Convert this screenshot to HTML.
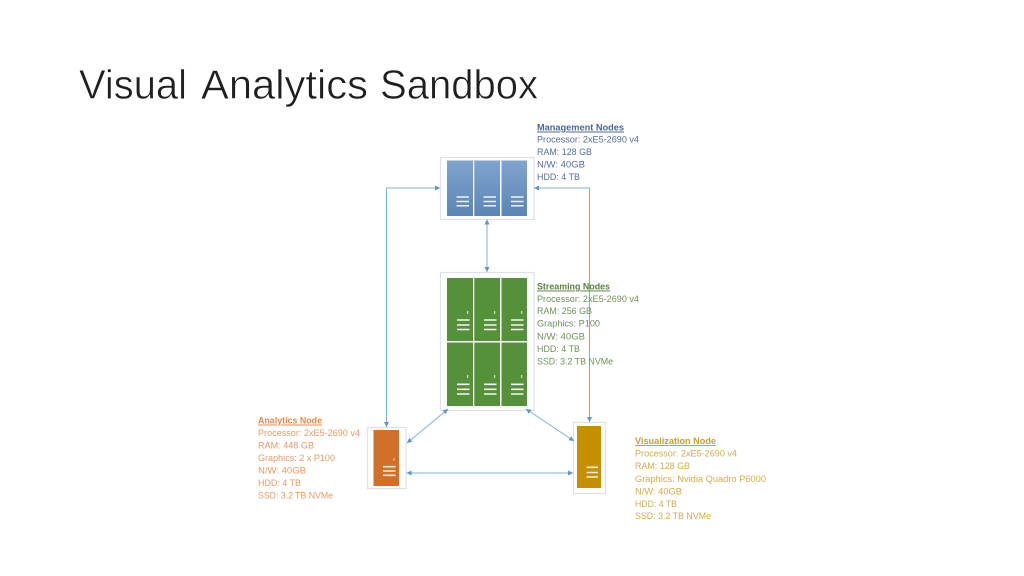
<!DOCTYPE html>
<html><head><meta charset="utf-8"><style>
html,body{margin:0;padding:0;background:#fff}
svg{display:block}
text{font-family:"Liberation Sans",sans-serif}
.s{font-size:9.6px}
.h{font-size:9.6px;font-weight:bold;text-decoration:underline}
.title{font-size:40.5px;fill:#1f1f1f;stroke:#fff;stroke-width:.55px;paint-order:fill stroke}
</style></head><body>
<svg width="1024" height="576" viewBox="0 0 1024 576" xmlns="http://www.w3.org/2000/svg">
<defs>
<linearGradient id="b" x1="0" y1="0" x2="0" y2="1"><stop offset="0" stop-color="#7fa5cc"/><stop offset="1" stop-color="#5b85b4"/></linearGradient>
<marker id="a" markerWidth="6" markerHeight="6" refX="5" refY="2.500" orient="auto-start-reverse" markerUnits="userSpaceOnUse"><path d="M0,0L5,2.500L0,5z" fill="#5b94cc"/></marker>
<filter id="t" x="-5%" y="-5%" width="110%" height="110%"><feGaussianBlur stdDeviation="0.3"/></filter>
<filter id="d" x="-5%" y="-5%" width="110%" height="110%"><feGaussianBlur stdDeviation="0.25"/></filter>
</defs>
<text class="title" x="79" y="98.500" textLength="108" lengthAdjust="spacingAndGlyphs">Visual</text>
<text class="title" x="201" y="98.500" textLength="167" lengthAdjust="spacingAndGlyphs">Analytics</text>
<text class="title" x="380" y="98.500" textLength="158" lengthAdjust="spacingAndGlyphs">Sandbox</text>

<g filter="url(#d)">
<g fill="#fff" stroke="#dde2e8" stroke-width="1.200">
<rect x="440.500" y="157.500" width="93.500" height="62"/>
<rect x="440.500" y="272.500" width="93.500" height="138"/>
<rect x="367.500" y="427.500" width="38.500" height="61"/>
<rect x="573.500" y="422.500" width="32" height="71"/>
</g>

<g fill="url(#b)">
<rect x="447" y="160.500" width="26" height="55.500"/>
<rect x="474.300" y="160.500" width="25.700" height="55.500"/>
<rect x="501.500" y="160.500" width="25.500" height="55.500"/>
</g>
<g fill="#55903b">
<rect x="447" y="278" width="26" height="63"/>
<rect x="474.300" y="278" width="25.700" height="63"/>
<rect x="501.500" y="278" width="25.500" height="63"/>
<rect x="447" y="342.500" width="26" height="63.500"/>
<rect x="474.300" y="342.500" width="25.700" height="63.500"/>
<rect x="501.500" y="342.500" width="25.500" height="63.500"/>
</g>
<rect x="373.500" y="430" width="25.500" height="56" fill="#d2702c"/>
<rect x="577" y="426" width="24" height="62" fill="#c49000"/>

<g stroke="#eef3f8" stroke-width="1.500">
<path d="M456.500 197h12.500M456.500 201.500h12.500M456.500 205.700h12.500M483.500 197h12.500M483.500 201.500h12.500M483.500 205.700h12.500M511 197h12.500M511 201.500h12.500M511 205.700h12.500"/>
</g>
<g stroke="#f4f8f0" stroke-width="1.600">
<path d="M457 320h12.500M457 325h12.500M457 329.500h12.500M484 320h12.500M484 325h12.500M484 329.500h12.500M511 320h12.500M511 325h12.500M511 329.500h12.500"/>
<path d="M457 384.300h12.500M457 389.300h12.500M457 394h12.500M484 384.300h12.500M484 389.300h12.500M484 394h12.500M511 384.300h12.500M511 389.300h12.500M511 394h12.500"/>
</g>
<g fill="#cfe0c4">
<rect x="467" y="311" width="1.200" height="3"/><rect x="494" y="311" width="1.200" height="3"/><rect x="521" y="311" width="1.200" height="3"/>
<rect x="467" y="375" width="1.200" height="3"/><rect x="494" y="375" width="1.200" height="3"/><rect x="521" y="375" width="1.200" height="3"/>
</g>
<path d="M383 466.700h12.500M383 471h12.500M383 475.300h12.500" stroke="#fbe6d4" stroke-width="1.600"/>
<rect x="393" y="458" width="1.800" height="2.800" fill="#f0a070"/>
<path d="M586.500 467.300h11.500M586.500 472.500h11.500M586.500 477h11.500" stroke="#fbf0cc" stroke-width="1.600"/>

<g fill="none" stroke="#7fb0dc" stroke-width="1" marker-start="url(#a)" marker-end="url(#a)">
<path d="M440 188H386.500V427"/>
<path d="M534 188H589.500V422"/>
<path d="M487 219.500V272"/>
<path d="M407 443L448 409"/>
<path d="M574 441L526 409"/>
<path d="M406.500 473H573"/>
</g>
</g>

<g filter="url(#t)">
<text class="h" x="537" y="130.500" textLength="87" lengthAdjust="spacingAndGlyphs" fill="#4a659f">Management Nodes</text>
<g fill="#566c9e">
<text class="s" x="537" y="142.500" textLength="102" lengthAdjust="spacingAndGlyphs">Processor: 2xE5-2690 v4</text>
<text class="s" x="537" y="155" textLength="55" lengthAdjust="spacingAndGlyphs">RAM: 128 GB</text>
<text class="s" x="537" y="167.500" textLength="48" lengthAdjust="spacingAndGlyphs">N/W: 40GB</text>
<text class="s" x="537" y="180" textLength="43" lengthAdjust="spacingAndGlyphs">HDD: 4 TB</text>
</g>
<text class="h" x="537" y="289.500" textLength="73" lengthAdjust="spacingAndGlyphs" fill="#5b8242">Streaming Nodes</text>
<g fill="#6f9158">
<text class="s" x="537" y="302" textLength="102" lengthAdjust="spacingAndGlyphs">Processor: 2xE5-2690 v4</text>
<text class="s" x="537" y="314" textLength="55" lengthAdjust="spacingAndGlyphs">RAM: 256 GB</text>
<text class="s" x="537" y="326.500" textLength="63" lengthAdjust="spacingAndGlyphs">Graphics: P100</text>
<text class="s" x="537" y="339.500" textLength="48" lengthAdjust="spacingAndGlyphs">N/W: 40GB</text>
<text class="s" x="537" y="352" textLength="43" lengthAdjust="spacingAndGlyphs">HDD: 4 TB</text>
<text class="s" x="537" y="364.500" textLength="76" lengthAdjust="spacingAndGlyphs">SSD: 3.2 TB NVMe</text>
</g>
<text class="h" x="258" y="423.500" textLength="64" lengthAdjust="spacingAndGlyphs" fill="#e58a4e">Analytics Node</text>
<g fill="#e99a66">
<text class="s" x="258" y="436" textLength="102" lengthAdjust="spacingAndGlyphs">Processor: 2xE5-2690 v4</text>
<text class="s" x="258" y="448.500" textLength="56" lengthAdjust="spacingAndGlyphs">RAM: 448 GB</text>
<text class="s" x="258" y="461" textLength="77" lengthAdjust="spacingAndGlyphs">Graphics: 2 x P100</text>
<text class="s" x="258" y="473.500" textLength="48" lengthAdjust="spacingAndGlyphs">N/W: 40GB</text>
<text class="s" x="258" y="486" textLength="43" lengthAdjust="spacingAndGlyphs">HDD: 4 TB</text>
<text class="s" x="258" y="498.500" textLength="75" lengthAdjust="spacingAndGlyphs">SSD: 3.2 TB NVMe</text>
</g>
<text class="h" x="635" y="444" textLength="81" lengthAdjust="spacingAndGlyphs" fill="#c9a02a">Visualization Node</text>
<g fill="#d2ab4e">
<text class="s" x="635" y="456.500" textLength="102" lengthAdjust="spacingAndGlyphs">Processor: 2xE5-2690 v4</text>
<text class="s" x="635" y="469" textLength="55" lengthAdjust="spacingAndGlyphs">RAM: 128 GB</text>
<text class="s" x="635" y="482" textLength="131" lengthAdjust="spacingAndGlyphs">Graphics: Nvidia Quadro P6000</text>
<text class="s" x="635" y="494.500" textLength="47" lengthAdjust="spacingAndGlyphs">N/W: 40GB</text>
<text class="s" x="635" y="507" textLength="42" lengthAdjust="spacingAndGlyphs">HDD: 4 TB</text>
<text class="s" x="635" y="519" textLength="76" lengthAdjust="spacingAndGlyphs">SSD: 3.2 TB NVMe</text>
</g>
</g>
</svg>
</body></html>
